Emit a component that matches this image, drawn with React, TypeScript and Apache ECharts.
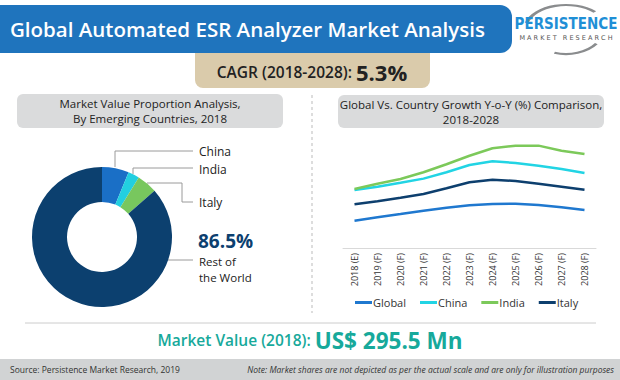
import React, { useEffect, useRef } from "react";
import * as echarts from "echarts";

const years = ["2018 (E)", "2019 (F)", "2020 (F)", "2021 (F)", "2022 (F)", "2023 (F)", "2024 (F)", "2025 (F)", "2026 (F)", "2027 (F)", "2028 (F)"];
const globalGrowth = [2.28, 2.56, 2.83, 3.11, 3.36, 3.56, 3.67, 3.69, 3.58, 3.39, 3.17];
const chinaGrowth = [4.83, 5.11, 5.44, 5.78, 6.31, 6.92, 7.23, 7.08, 6.86, 6.58, 6.25];
const indiaGrowth = [4.92, 5.36, 5.75, 6.31, 6.98, 7.69, 8.31, 8.53, 8.53, 8.11, 7.83];
const italyGrowth = [3.64, 3.89, 4.19, 4.5, 4.98, 5.48, 5.69, 5.58, 5.36, 5.11, 4.86];

const shareNames = ["China", "India", "Italy", "Rest of the World"];
const shareValues = [6.2, 2.6, 4.7, 86.5];

const FONT = "'Open Sans', 'Noto Sans', sans-serif";

export default function App() {
  const ref = useRef<HTMLDivElement>(null);
  useEffect(() => {
    document.body.style.margin = "0";
    const chart = echarts.init(ref.current!, null, { renderer: "svg" });
    const lineColors = ["#1f78cf", "#22d4e4", "#7cc95a", "#0d3f6e"];
    const pieColors = ["#1a6fc6", "#22cfe0", "#78c75e", "#0c406f"];
    const mkLine = (name: string, data: number[], color: string) => ({
      name,
      type: "line",
      data,
      symbol: "none",
      smooth: false,
      lineStyle: { width: 2.5, color },
      itemStyle: { color },
      xAxisIndex: 0,
      yAxisIndex: 0,
    });
    chart.setOption({
      animation: false,
      backgroundColor: "#ffffff",
      textStyle: { fontFamily: FONT },
      grid: { left: 343, width: 253, top: 128, height: 120 },
      xAxis: {
        type: "category",
        data: years,
        boundaryGap: true,
        axisLine: { lineStyle: { color: "#d9d9d9", width: 1 } },
        axisTick: { show: false },
        axisLabel: { rotate: 90, fontSize: 9, color: "#333", margin: 5, fontFamily: FONT },
      },
      yAxis: { type: "value", min: 0, max: 10, show: false, splitLine: { show: false } },
      legend: {
        left: 355,
        top: 297,
        itemWidth: 17,
        itemHeight: 3,
        itemGap: 14,
        icon: "rect",
        padding: 0,
        textStyle: { fontSize: 11, color: "#333", fontFamily: FONT, padding: [0, 0, 0, -4] },
        data: ["Global", "China", "India", "Italy"],
      },
      series: [
        mkLine("Global", globalGrowth, lineColors[0]),
        mkLine("China", chinaGrowth, lineColors[1]),
        mkLine("India", indiaGrowth, lineColors[2]),
        mkLine("Italy", italyGrowth, lineColors[3]),
        {
          type: "pie",
          center: [102, 237],
          radius: [35, 70],
          startAngle: 90,
          clockwise: true,
          label: { show: false },
          labelLine: { show: false },
          emphasis: { disabled: true },
          data: shareNames.map((n, i) => ({ name: n, value: shareValues[i], itemStyle: { color: pieColors[i] } })),
        },
      ],
      graphic: [
        // title banner
        { type: "rect", shape: { x: -20, y: 5, width: 532, height: 48, r: 12 }, style: { fill: "#1f74bd" } },
        {
          type: "text", x: 10, y: 29,
          style: { text: "Global Automated ESR Analyzer Market Analysis", fill: "#ffffff", font: `600 20.5px ${FONT}`, textVerticalAlign: "middle" },
        },
        // logo
        { type: "arc", x: 566, y: 29, scaleX: 1.7, scaleY: 1, shape: { cx: 0, cy: 0, r: 24, startAngle: Math.PI * 1.08, endAngle: Math.PI * 1.75 }, style: { stroke: "#8a8c8e", lineWidth: 2.2, fill: "none" } },
        { type: "arc", x: 566, y: 29, scaleX: 1.5, scaleY: 1, shape: { cx: 0, cy: 0, r: 25, startAngle: Math.PI * 0.2, endAngle: Math.PI * 0.6 }, style: { stroke: "#8a8c8e", lineWidth: 2.2, fill: "none" } },
        { type: "text", x: 566, y: 24, style: { text: "PERSISTENCE", fill: "#1f8fd6", font: `bold 15px 'Liberation Sans Narrow', 'DejaVu Sans Condensed', sans-serif`, textAlign: "center", textVerticalAlign: "middle" } },
        { type: "text", x: 566, y: 38, style: { text: "M A R K E T   R E S E A R C H", fill: "#555", font: `6.5px 'DejaVu Sans', sans-serif`, textAlign: "center", textVerticalAlign: "middle" } },
        // CAGR box
        { type: "rect", shape: { x: 195, y: 53, width: 235, height: 35, r: [0, 0, 8, 8] }, style: { fill: "#dacbab" } },
        {
          type: "text", x: 312, y: 72,
          style: {
            text: "{a|CAGR (2018-2028): }{b|5.3%}",
            textAlign: "center", textVerticalAlign: "middle",
            rich: {
              a: { font: `600 15.5px ${FONT}`, fill: "#222" },
              b: { font: `bold 22px ${FONT}`, fill: "#222" },
            },
          },
        },
        // left header
        { type: "rect", shape: { x: 17, y: 94, width: 266, height: 34, r: 6 }, style: { fill: "#dadbdc" } },
        { type: "text", x: 150, y: 111, style: { text: "Market Value Proportion Analysis,\nBy Emerging Countries, 2018", fill: "#222", font: `11.5px ${FONT}`, lineHeight: 15, textAlign: "center", textVerticalAlign: "middle" } },
        // right header
        { type: "rect", shape: { x: 338, y: 95, width: 266, height: 33, r: 6 }, style: { fill: "#dadbdc" } },
        { type: "text", x: 471, y: 111.5, style: { text: "Global Vs. Country Growth Y-o-Y (%) Comparison,\n2018-2028", fill: "#222", font: `11.5px ${FONT}`, lineHeight: 15, textAlign: "center", textVerticalAlign: "middle" } },
        // divider
        { type: "line", shape: { x1: 312, y1: 95, x2: 312, y2: 313 }, style: { stroke: "#bbbbbb", lineWidth: 1, lineDash: [3, 3] } },
        // pie leaders
        { type: "polyline", shape: { points: [[115, 167], [115, 151], [193, 151]] }, style: { stroke: "#9a9a9a", lineWidth: 1, fill: "none" } },
        { type: "polyline", shape: { points: [[133, 174], [133, 168], [193, 168]] }, style: { stroke: "#9a9a9a", lineWidth: 1, fill: "none" } },
        { type: "polyline", shape: { points: [[147, 183], [182, 183], [182, 202], [193, 202]] }, style: { stroke: "#9a9a9a", lineWidth: 1, fill: "none" } },
        { type: "polyline", shape: { points: [[168, 260], [193, 260]] }, style: { stroke: "#9a9a9a", lineWidth: 1, fill: "none" } },
        { type: "text", x: 199, y: 151, style: { text: "China", fill: "#222", font: `12px ${FONT}`, textVerticalAlign: "middle" } },
        { type: "text", x: 199, y: 169, style: { text: "India", fill: "#222", font: `12px ${FONT}`, textVerticalAlign: "middle" } },
        { type: "text", x: 199, y: 202, style: { text: "Italy", fill: "#222", font: `12px ${FONT}`, textVerticalAlign: "middle" } },
        { type: "text", x: 198, y: 241, style: { text: "86.5%", fill: "#0c406f", font: `bold 19px ${FONT}`, textVerticalAlign: "middle" } },
        { type: "text", x: 199, y: 269, style: { text: "Rest of\nthe World", fill: "#222", font: `11.5px ${FONT}`, lineHeight: 16, textVerticalAlign: "middle" } },
        // separator
        { type: "line", shape: { x1: 25, y1: 323, x2: 596, y2: 323 }, style: { stroke: "#cccccc", lineWidth: 1 } },
        // market value
        {
          type: "text", x: 310, y: 340,
          style: {
            text: "{a|Market Value (2018): }{b|US$ 295.5 Mn}",
            textAlign: "center", textVerticalAlign: "middle",
            rich: {
              a: { font: `600 15.5px ${FONT}`, fill: "#17a99b" },
              b: { font: `bold 22.5px ${FONT}`, fill: "#17a99b" },
            },
          },
        },
        // footer
        { type: "rect", shape: { x: 0, y: 359, width: 620, height: 21 }, style: { fill: "#d1d3d4" } },
        { type: "text", x: 10, y: 369.5, style: { text: "Source: Persistence Market Research, 2019", fill: "#333", font: `8.5px ${FONT}`, textVerticalAlign: "middle" } },
        { type: "text", x: 614, y: 369.5, style: { text: "Note: Market shares are not depicted as per the actual scale and are only for illustration purposes", fill: "#333", font: `italic 8.5px ${FONT}`, textAlign: "right", textVerticalAlign: "middle" } },
      ],
    });
    return () => chart.dispose();
  }, []);
  return <div ref={ref} style={{ width: 620, height: 380 }} />;
}
